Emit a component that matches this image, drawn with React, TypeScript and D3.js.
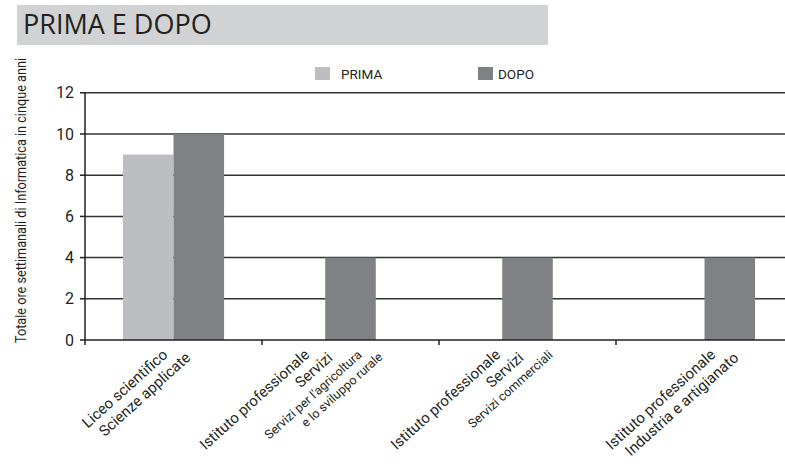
import React, { useEffect } from 'react';
import * as d3 from 'd3';

// data
const categories = ['liceo', 'agricoltura', 'commerciali', 'industria'];
const labelMain = [
  ['Liceo scientifico', 'Scienze applicate'],
  ['Istituto professionale', 'Servizi'],
  ['Istituto professionale', 'Servizi'],
  ['Istituto professionale', 'Industria e artigianato'],
];
const labelSub = [[], ["Servizi per l'agricoltura", 'e lo sviluppo rurale'], ['Servizi commerciali'], []];
const series = ['PRIMA', 'DOPO'];
const primaValues: (number | null)[] = [9, null, null, 0];
const dopoValues = [10, 4, 4, 4];
const yTicks = [0, 2, 4, 6, 8, 10, 12];

const colors: Record<string, string> = { PRIMA: '#bdbec1', DOPO: '#808184' };

// layout
const W = 785;
const H = 470;
const left = 85;
const axisY = 340;
const top = 92.8;
const labelShift = [-5, -40, -26, 12]; // end of first label line, relative to band centre
const lineStep = 23;
const subGap = 29;
const subStep = 21;
const font = 'Roboto, "Open Sans", sans-serif';

const App: React.FC = () => {
  useEffect(() => {
    document.body.style.margin = '0';
  }, []);

  const x = d3.scaleBand<string>().domain(categories).range([left, left + 177 * 4]).paddingInner(0).paddingOuter(0);
  const xSub = d3.scaleBand<string>().domain(series).range([0, x.bandwidth()]).paddingOuter(0.75).paddingInner(0);
  const y = d3.scaleLinear().domain([0, 12]).range([axisY, top]);

  const bars: { key: string; s: string; x: number; v: number }[] = [];
  categories.forEach((c, i) => {
    const bx = x(c)!;
    const p = primaValues[i];
    if (p === null) {
      // no PRIMA value: DOPO bar centred in its band
      bars.push({ key: c + 'D', s: 'DOPO', x: bx + (x.bandwidth() - xSub.bandwidth()) / 2, v: dopoValues[i] });
    } else {
      bars.push({ key: c + 'P', s: 'PRIMA', x: bx + xSub('PRIMA')!, v: p });
      bars.push({ key: c + 'D', s: 'DOPO', x: bx + xSub('DOPO')!, v: dopoValues[i] });
    }
  });

  return (
    <svg width={W} height={H} style={{ display: 'block', overflow: 'hidden', background: '#fff' }}>
      {/* title band */}
      <rect x={17} y={5} width={531} height={40} fill="#d1d2d4" />
      <text x={23} y={34} fontFamily='"Open Sans", sans-serif' fontSize={27} fill="#231f20">
        PRIMA E DOPO
      </text>

      {/* legend */}
      <rect x={315} y={67} width={15} height={13} fill={colors.PRIMA} />
      <text x={341} y={79} fontFamily={font} fontSize={13.5} fill="#231f20">PRIMA</text>
      <rect x={478} y={67} width={15} height={13} fill={colors.DOPO} />
      <text x={498} y={79} fontFamily={font} fontSize={13.5} fill="#231f20">DOPO</text>

      {/* grid */}
      {yTicks.slice(1).map((t) => (
        <line key={t} x1={left} x2={W} y1={y(t)} y2={y(t)} stroke="#333" strokeWidth={1.5} />
      ))}

      {/* bars */}
      {bars.map((b) => (
        <rect key={b.key} x={b.x} y={y(b.v)} width={xSub.bandwidth()} height={axisY - y(b.v)} fill={colors[b.s]} />
      ))}

      {/* axes */}
      <line x1={left} x2={W} y1={axisY} y2={axisY} stroke="#231f20" strokeWidth={1.5} />
      <line x1={left} x2={left} y1={top} y2={axisY + 5} stroke="#231f20" strokeWidth={1.5} />
      {yTicks.map((t) => (
        <g key={t}>
          <line x1={left - 5} x2={left} y1={y(t)} y2={y(t)} stroke="#231f20" strokeWidth={1.5} />
          <text x={left - 11} y={y(t)} dy="0.35em" textAnchor="end" fontFamily={font} fontSize={16} fill="#231f20">
            {t}
          </text>
        </g>
      ))}
      {categories.slice(1).map((c) => (
        <line key={c} x1={x(c)} x2={x(c)} y1={axisY} y2={axisY + 5} stroke="#231f20" strokeWidth={1.5} />
      ))}

      {/* category labels */}
      {categories.map((c, i) => {
        const cx = x(c)! + x.bandwidth() / 2 + labelShift[i];
        const lines: { t: string; size: number; dx: number; dy: number }[] = [];
        let dx = 0;
        let dy = 0;
        labelMain[i].forEach((t, j) => {
          if (j > 0) { dx += lineStep; dy += 3; }
          lines.push({ t, size: 15, dx, dy });
        });
        labelSub[i].forEach((t, j) => {
          if (j === 0) { dx += subGap; dy -= 3; } else { dx += subStep; dy += 2; }
          lines.push({ t, size: 12.5, dx, dy });
        });
        return lines.map((l, j) => (
          <text
            key={c + j}
            transform={`translate(${cx + l.dx},${axisY + 16 + l.dy}) rotate(-42)`}
            textAnchor="end"
            fontFamily={font}
            fontSize={l.size}
            fill="#231f20"
          >
            {l.t}
          </text>
        ));
      })}

      {/* y title */}
      <text
        transform={`translate(26,${(58 + 343) / 2}) rotate(-90)`}
        textAnchor="middle"
        fontFamily={font}
        fontSize={14}
        textLength={285}
        lengthAdjust="spacingAndGlyphs"
        fill="#231f20"
      >
        Totale ore settimanali di Informatica in cinque anni
      </text>
    </svg>
  );
};

export default App;
